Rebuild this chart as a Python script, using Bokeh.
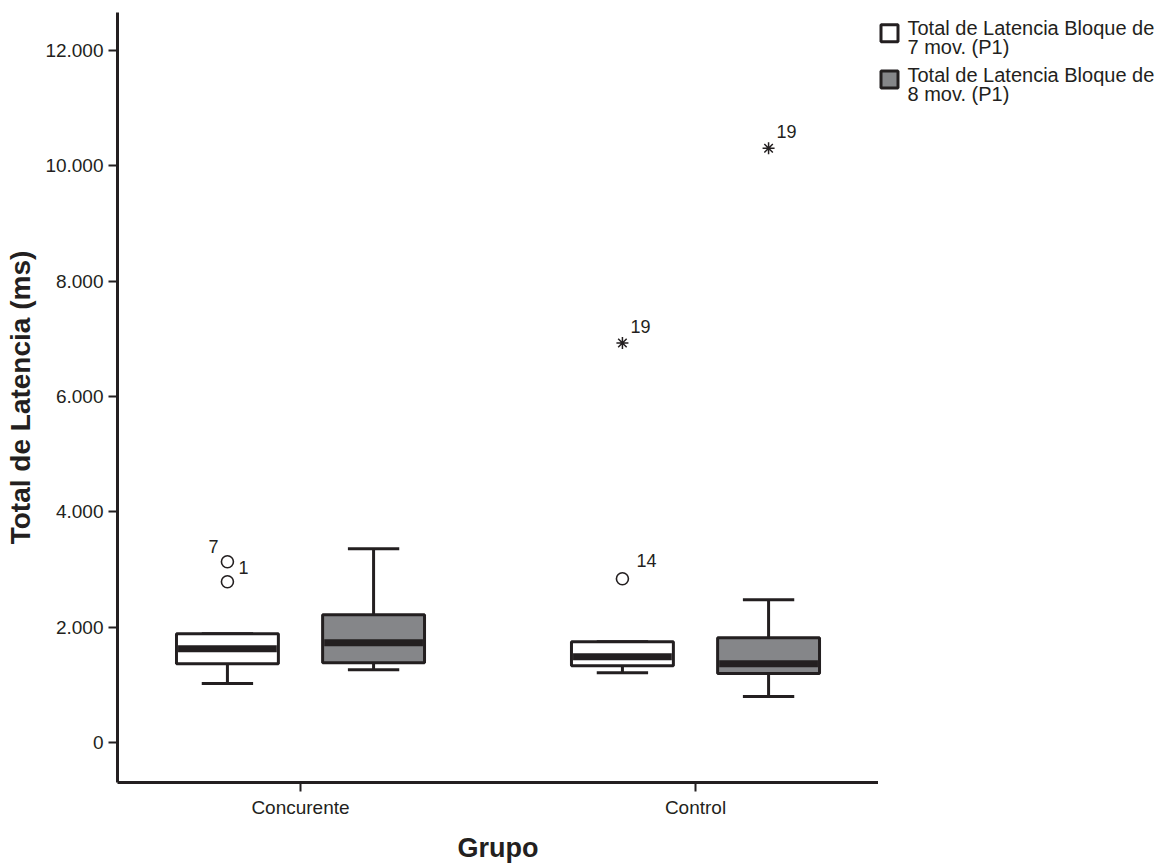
from bokeh.plotting import figure
from bokeh.layouts import row
from bokeh.models import ColumnDataSource, FixedTicker
from bokeh.core.properties import value
from bokeh.embed import file_html
from bokeh.resources import INLINE

# ---------------- data ----------------
groups = ["Concurente", "Control"]
series_lines = [["Total de Latencia Bloque de", "7 mov. (P1)"],
                ["Total de Latencia Bloque de", "8 mov. (P1)"]]

# block of 7 movements
q1_7 = [1368, 1333]
med_7 = [1628, 1489]
q3_7 = [1887, 1749]
lo_7 = [1022, 1212]
hi_7 = [1887, 1749]

# block of 8 movements
q1_8 = [1385, 1195]
med_8 = [1732, 1368]
q3_8 = [2216, 1818]
lo_8 = [1264, 797]
hi_8 = [3359, 2476]

# outliers (circles) and extremes (stars)
out_group = ["Concurente", "Concurente", "Control"]
out_series = [0, 0, 0]
out_value = [3134, 2788, 2840]
out_case = ["7", "1", "14"]

ext_group = ["Control", "Control"]
ext_series = [0, 1]
ext_value = [6926, 10303]
ext_case = ["19", "19"]

y_ticks = [0, 2000, 4000, 6000, 8000, 10000, 12000]
y_tick_labels = ["0", "2.000", "4.000", "6.000", "8.000", "10.000", "12.000"]

# ---------------- styling ----------------
DARK = "#231f20"
GRAY = "#858689"
FILLS = ["#ffffff", GRAY]
FONT = "Liberation Sans"

group_pos = {g: i + 1 for i, g in enumerate(groups)}
dodge = [-0.185, 0.185]
box_w = 0.258
cap_w = 0.13

# frame geometry (pixels) and ranges
W, H = 1162, 867
MAIN_W = 878                 # main plot width (axis ends here)
FL, FT, FB = 117, 12, 782    # frame left / top / bottom in px
PX_PER_X = 395.0             # px per category unit
X0 = 1 - (300 - FL) / PX_PER_X
X1 = 1 + (MAIN_W - 300) / PX_PER_X
Y0, Y1 = -693, 12658

p = figure(width=MAIN_W, height=H, x_range=(X0, X1), y_range=(Y0, Y1),
           output_backend="svg", toolbar_location=None,
           min_border_left=FL, min_border_right=0, min_border_top=FT,
           min_border_bottom=H - FB)
p.outline_line_color = None
p.grid.visible = False
p.background_fill_color = "white"
p.border_fill_color = "white"

for s, (q1, med, q3, lo, hi) in enumerate([(q1_7, med_7, q3_7, lo_7, hi_7),
                                            (q1_8, med_8, q3_8, lo_8, hi_8)]):
    xs = [group_pos[g] + dodge[s] for g in groups]
    src = ColumnDataSource(dict(x=xs, q1=q1, med=med, q3=q3, lo=lo, hi=hi,
                                cl=[x - cap_w / 2 for x in xs], cr=[x + cap_w / 2 for x in xs],
                                bl=[x - box_w / 2 + 0.004 for x in xs],
                                br=[x + box_w / 2 - 0.004 for x in xs]))
    p.segment(x0="x", y0="q3", x1="x", y1="hi", source=src, line_color=DARK, line_width=3)
    p.segment(x0="x", y0="lo", x1="x", y1="q1", source=src, line_color=DARK, line_width=3)
    p.segment(x0="cl", y0="hi", x1="cr", y1="hi", source=src, line_color=DARK, line_width=3)
    p.segment(x0="cl", y0="lo", x1="cr", y1="lo", source=src, line_color=DARK, line_width=3)
    p.vbar(x="x", width=box_w, bottom="q1", top="q3", source=src,
           fill_color=FILLS[s], line_color=DARK, line_width=3)
    p.segment(x0="bl", y0="med", x1="br", y1="med", source=src, line_color=DARK, line_width=7)

# outliers
ox = [group_pos[g] + dodge[s] for g, s in zip(out_group, out_series)]
osrc = ColumnDataSource(dict(x=ox, y=out_value, t=out_case,
                             xo=[-14, 11, 14], yo=[-9, -8, -12],
                             al=["center", "left", "left"]))
p.scatter(x="x", y="y", source=osrc, marker="circle", size=12,
          fill_color=None, line_color=DARK, line_width=1.6)
p.text(x="x", y="y", text="t", source=osrc, x_offset="xo", y_offset="yo",
       text_align="al", text_baseline="bottom", text_font=value(FONT),
       text_font_size="18px", text_color=DARK)

ex = [group_pos[g] + dodge[s] for g, s in zip(ext_group, ext_series)]
esrc = ColumnDataSource(dict(x=ex, y=ext_value, t=ext_case))
p.scatter(x="x", y="y", source=esrc, marker="asterisk", size=12,
          line_color=DARK, line_width=1.5)
p.text(x="x", y="y", text="t", source=esrc, x_offset=8, y_offset=-10,
       text_align="left", text_baseline="bottom", text_font=value(FONT),
       text_font_size="18px", text_color=DARK)

# axes
yax = p.yaxis[0]
yax.ticker = FixedTicker(ticks=y_ticks)
yax.major_label_overrides = {t: l for t, l in zip(y_ticks, y_tick_labels)}
yax.axis_label = "Total de Latencia (ms)"
xax = p.xaxis[0]
xax.ticker = FixedTicker(ticks=[group_pos[g] for g in groups])
xax.major_label_overrides = {group_pos[g]: g for g in groups}
xax.axis_label = "Grupo"
for ax in (xax, yax):
    ax.axis_line_color = DARK
    ax.axis_line_width = 3
    ax.major_tick_line_color = DARK
    ax.major_tick_line_width = 2
    ax.major_tick_in = 0
    ax.major_tick_out = 9
    ax.minor_tick_line_color = None
    ax.major_label_text_font = FONT
    ax.major_label_text_color = DARK
    ax.axis_label_text_font = FONT
    ax.axis_label_text_font_style = "bold"
    ax.axis_label_text_color = DARK
yax.major_label_text_font_size = "19px"
yax.major_label_standoff = 5
yax.axis_label_text_font_size = "28px"
yax.axis_label_standoff = 6
xax.major_label_text_font_size = "19px"
xax.major_label_standoff = 5
xax.axis_label_text_font_size = "27px"
xax.axis_label_standoff = 12

# legend panel on the right (coordinates follow page pixels, y pointing down)
LW = W - MAIN_W
lg = figure(width=LW, height=H, x_range=(0, LW), y_range=(759, 13),
            output_backend="svg", toolbar_location=None,
            x_axis_type=None, y_axis_type=None,
            min_border_left=0, min_border_right=0, min_border_top=0, min_border_bottom=0)
lg.outline_line_color = None
lg.grid.visible = False
lg.background_fill_color = "white"
lg.border_fill_color = "white"

leg_src = ColumnDataSource(dict(x=[11, 11], y=[33, 78], c=FILLS))
lg.rect(x="x", y="y", width=17, height=17, width_units="screen", height_units="screen",
        source=leg_src, fill_color="c", line_color=DARK, line_width=3)
leg_text, leg_ty = [], []
for i, lines in enumerate(series_lines):
    for j, ln in enumerate(lines):
        leg_text.append(ln)
        leg_ty.append(28 + 46 * i + 18 * j)
lg.text(x=[29] * len(leg_text), y=leg_ty, text=leg_text,
        text_align="left", text_baseline="middle", text_font=value(FONT),
        text_font_size="20px", text_color=DARK)

layout = row(p, lg, spacing=0)
open("out.html", "w").write(file_html(layout, INLINE))
